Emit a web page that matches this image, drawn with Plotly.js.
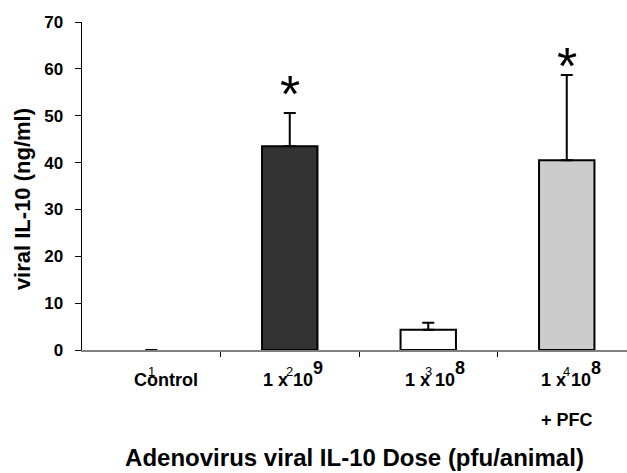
<!DOCTYPE html>
<html>
<head>
<meta charset="utf-8">
<script src="https://cdn.plot.ly/plotly-3.0.1.min.js"></script>
<style>html,body{margin:0;padding:0;background:#fff;}#chart{width:627px;height:473px;}</style>
</head>
<body>
<div id="chart"></div>
<script>
// Data
const categoryIndex = [1, 2, 3, 4];
const categoryLabels = ["Control", "1 x 10", "1 x 10", "1 x 10"];
const labelExponents = ["", "9", "8", "8"];
const categorySubLabels = ["", "", "", "+ PFC"];
const il10Values = [0, 43.5, 4.3, 40.5];
const il10ErrorPlus = [0, 7.1, 1.5, 18.2];
const starLevel = [null, 57, null, 63];
const barColors = ["#ffffff", "#333333", "#ffffff", "#cccccc"];
const yTickVals = [0, 10, 20, 30, 40, 50, 60, 70];
const xTitle = "Adenovirus viral IL-10 Dose (pfu/animal)";
const yTitle = "viral IL-10 (ng/ml)";

const FONT = "Arial, 'Liberation Sans', sans-serif";
const LABEL_SIZE = 18;
const labelXShift = [15, -2, 2, -1];

const trace = {
  type: "bar",
  x: categoryIndex,
  y: il10Values,
  width: 0.4,
  marker: { color: barColors, line: { color: "#000", width: il10Values.map(v => v > 0 ? 2 : 0) } },
  error_y: {
    type: "data", symmetric: false, array: il10ErrorPlus,
    arrayminus: il10Values.map(() => 0),
    color: "#000", thickness: 2, width: 6
  },
  hoverinfo: "none"
};

// approximate half-width of "1 x 10" in bold Arial
const baseHalf = 2.78 * LABEL_SIZE / 2;

const annotations = [];
categoryIndex.forEach((c, i) => {
  annotations.push({
    x: c, xref: "x", y: 0, yref: "paper", yanchor: "bottom", yshift: -42,
    xshift: labelXShift[i],
    text: categoryLabels[i], showarrow: false, align: "center",
    font: { family: FONT, size: LABEL_SIZE, weight: "bold", color: "#000" }
  });
  if (labelExponents[i]) {
    annotations.push({
      x: c, xref: "x", y: 0, yref: "paper", yanchor: "bottom", yshift: -30,
      xanchor: "left", xshift: labelXShift[i] + baseHalf - 2,
      text: labelExponents[i], showarrow: false,
      font: { family: FONT, size: LABEL_SIZE, weight: "bold", color: "#000" }
    });
  }
  if (categorySubLabels[i]) {
    annotations.push({
      x: c, xref: "x", y: 0, yref: "paper", yanchor: "middle", yshift: -70,
      text: categorySubLabels[i], showarrow: false,
      font: { family: FONT, size: LABEL_SIZE, weight: "bold", color: "#000" }
    });
  }
  annotations.push({
    x: c, xref: "x", y: 0, yref: "paper", yanchor: "bottom", yshift: -31,
    text: String(c), showarrow: false,
    font: { family: FONT, size: 13, color: "#000" }
  });
  if (starLevel[i] !== null) {
    annotations.push({
      x: c, xref: "x", y: starLevel[i], yref: "y",
      yanchor: "middle", yshift: -11,
      text: "*", showarrow: false,
      font: { family: FONT, size: 52, color: "#000" }
    });
  }
});

// y-axis title
annotations.push({
  x: 0, xref: "paper", xshift: -60, xanchor: "center",
  y: 0.46, yref: "paper", yanchor: "middle",
  textangle: -90, text: yTitle, showarrow: false,
  font: { family: FONT, size: 22, weight: "bold", color: "#000" }
});

const layout = {
  width: 627, height: 473,
  margin: { l: 82, r: 0, t: 22, b: 123 },
  paper_bgcolor: "#fff", plot_bgcolor: "#fff",
  showlegend: false,
  font: { family: FONT, color: "#000" },
  xaxis: {
    range: [0.5, 4.435],
    tickvals: [1.5, 2.5, 3.5],
    showticklabels: false,
    ticks: "outside", ticklen: 5, tickwidth: 1, tickcolor: "#000",
    showline: true, linecolor: "#808080", linewidth: 1.5,
    showgrid: false, zeroline: false, fixedrange: true,
    title: { text: xTitle, standoff: 93,
             font: { family: FONT, size: 24, weight: "bold", color: "#000" } },
    automargin: false
  },
  yaxis: {
    range: [0, 70],
    tickvals: yTickVals,
    ticks: "outside", ticklen: 6, tickwidth: 1, tickcolor: "#000",
    ticklabelstandoff: 8,
    showline: true, linecolor: "#000", linewidth: 1.5,
    showgrid: false, zeroline: false, fixedrange: true,
    tickfont: { family: FONT, size: 17, weight: "bold", color: "#000" },
    automargin: false
  },
  annotations: annotations
};

Plotly.newPlot("chart", [trace], layout, { displayModeBar: false, staticPlot: true });
</script>
</body>
</html>
